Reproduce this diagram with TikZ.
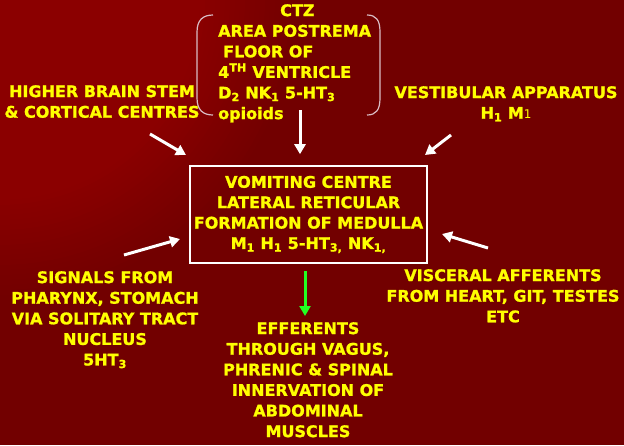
\documentclass[tikz,border=0pt]{standalone}
\usepackage{fontspec}
\setmainfont{DejaVu Sans}[BoldFeatures={FakeBold=1.2}]
\usetikzlibrary{arrows.meta,positioning}
\definecolor{bgbright}{HTML}{8B0000}
\definecolor{bgdark}{HTML}{720000}
\definecolor{txtyellow}{HTML}{FFFF00}
\definecolor{effgreen}{HTML}{22FF22}
\definecolor{bracegray}{HTML}{D9BCC4}

\begin{document}
\begin{tikzpicture}[
  x=1pt, y=-1pt,
  lbl/.style={text=txtyellow, font=\bfseries\fontsize{16}{20.6}\selectfont, align=center, inner sep=0pt, anchor=north},
  centrebox/.style={draw=white, line width=1.6pt, minimum width=237pt, minimum height=97pt, inner sep=0pt,
    text=txtyellow, font=\bfseries\fontsize{16}{20.4}\selectfont, align=center},
  arr/.style={-{Triangle[length=10pt,width=11pt]}, draw=white, fill=white, line width=3pt},
  effarr/.style={arr, draw=effgreen, fill=effgreen},
  bracket/.style={draw=bracegray, line width=1.2pt}
]
\useasboundingbox (0,0) rectangle (624,445);
\fill[bgdark] (0,0) rectangle (624,445);
\begin{scope}
  \clip (0,0) rectangle (624,445);
  \foreach \r [evaluate=\r as \p using {(300-\r)}] in {300,295,...,200}
    \fill[bgbright!\p!bgdark] (0,0) circle (\r);
\end{scope}

\node[lbl, anchor=north west, align=left] (ctz) at (218,4) {\hspace*{62pt}CTZ\\AREA POSTREMA\\\hspace*{5pt}FLOOR OF\\4\textsuperscript{TH} VENTRICLE\\D\textsubscript{2} NK\textsubscript{1} 5-HT\textsubscript{3}\\opioids};
\draw[bracket] (213,15) .. controls (203,15) and (197,20) .. (197,32) -- (197,98) .. controls (197,110) and (203,115) .. (213,115);
\draw[bracket] (367,15) .. controls (376,15) and (380,20) .. (380,32) -- (380,98) .. controls (380,110) and (376,115) .. (367,115);

\node[lbl] (hbs) at (102,85) {HIGHER BRAIN STEM\\\& CORTICAL CENTRES};
\node[lbl] (vest) at (506,86) {VESTIBULAR APPARATUS\\H\textsubscript{1} M{\mdseries\fontsize{12}{12}\selectfont 1}};
\node[centrebox] (vc) at (308.5,214.5) {VOMITING CENTRE\\LATERAL RETICULAR\\FORMATION OF MEDULLA\\M\textsubscript{1} H\textsubscript{1} 5-HT\textsubscript{3,} NK\textsubscript{1,}};
\node[lbl] (sig) at (105,271) {SIGNALS FROM\\PHARYNX, STOMACH\\VIA SOLITARY TRACT\\NUCLEUS\\5HT\textsubscript{3}};
\node[lbl] (visc) at (503,269) {VISCERAL AFFERENTS\\FROM HEART, GIT, TESTES\\ETC};
\node[lbl] (eff) at (308,322) {EFFERENTS\\THROUGH VAGUS,\\PHRENIC \& SPINAL\\INNERVATION OF\\ABDOMINAL\\MUSCLES};

\coordinate (ctz-a) at (300,110);
\coordinate (hbs-a) at (150,134);
\coordinate (hbs-b) at (186,155);
\coordinate (vest-a) at (451,135);
\coordinate (vest-b) at (425,155);
\coordinate (sig-a) at (124,255);
\coordinate (sig-b) at (180,239);
\coordinate (visc-a) at (488,248);
\coordinate (visc-b) at (442,234);
\coordinate (eff-a) at (305,271);

\draw[arr, shorten >=11pt] (ctz-a) -- (ctz-a |- vc.north);
\draw[arr] (hbs-a) -- (hbs-b);
\draw[arr] (vest-a) -- (vest-b);
\draw[arr] (sig-a) -- (sig-b);
\draw[arr] (visc-a) -- (visc-b);
\draw[effarr, shorten >=6pt] (eff-a) -- (eff-a |- eff.north);
\end{tikzpicture}
\end{document}
